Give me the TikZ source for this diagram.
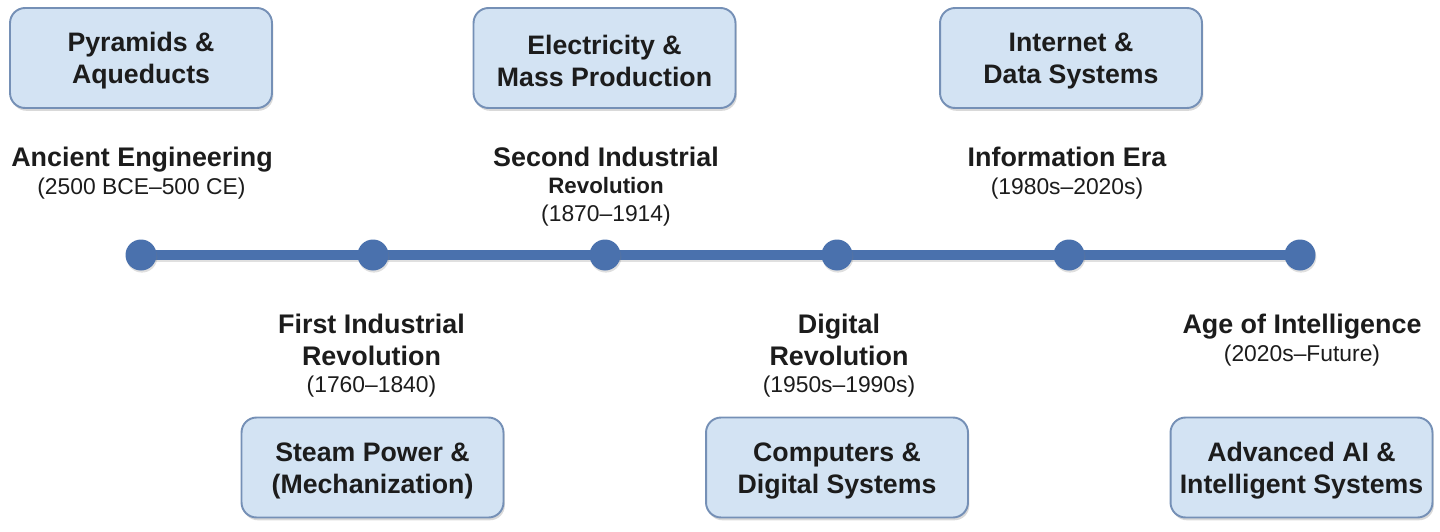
\documentclass[tikz,border=0pt]{standalone}
\usepackage{fontspec}
\setmainfont{Liberation Sans}
\usetikzlibrary{shadows}
\definecolor{boxfill}{HTML}{D3E3F3}
\definecolor{boxline}{HTML}{7590B6}
\definecolor{tl}{HTML}{4A71AD}
\definecolor{txt}{HTML}{1C1C1C}
\begin{document}
\begin{tikzpicture}[x=0.02cm,y=-0.02cm,
  erabox/.style={rounded corners=0.3cm, draw=boxline, line width=1.1pt, fill=boxfill,
    minimum width=5.24cm, minimum height=2cm, align=center, inner sep=0pt,
    font=\fontsize{15.2}{18.3}\selectfont\bfseries, text=txt, text height=32.6pt,
    drop shadow={opacity=0.3, shadow xshift=0.8pt, shadow yshift=-1.6pt}},
  tdot/.style={circle, fill=tl, minimum size=0.62cm, inner sep=0pt,
    drop shadow={opacity=0.25, shadow xshift=0.5pt, shadow yshift=-1.2pt}},
  tline/.style={draw=tl, line width=5.2pt},
  tshade/.style={draw=black, opacity=0.12, line width=5.2pt},
  ttitle/.style={anchor=base, inner sep=0pt, text=txt, font=\fontsize{15.3}{18}\selectfont\bfseries},
  tsub/.style={anchor=base, inner sep=0pt, text=txt, font=\fontsize{12.7}{15}\selectfont\bfseries},
  tdate/.style={anchor=base, inner sep=0pt, text=txt, font=\fontsize{13}{15}\selectfont}]
\useasboundingbox (0,0) rectangle (1440,531);

% boxes
\node[erabox] (b1) at (141,58) {Pyramids \&\\Aqueducts};
\node[erabox] (b2) at (604.5,58) {Electricity \&\\Mass Production};
\node[erabox] (b3) at (1071,58) {Internet \&\\Data Systems};
\node[erabox] (b4) at (372.5,467.5) {Steam Power \&\\(Mechanization)};
\node[erabox] (b5) at (837,467.5) {Computers \&\\Digital Systems};
\node[erabox] (b6) at (1301.5,467.5) {Advanced AI \&\\Intelligent Systems};

% timeline dots
\coordinate (p1) at (141,255);
\coordinate (p2) at (373,255);
\coordinate (p3) at (605,255);
\coordinate (p4) at (837,255);
\coordinate (p5) at (1069,255);
\coordinate (p6) at (1300,255);
\draw[tshade, transform canvas={yshift=-1.6pt}] (p1) -- (p6);
\draw[tline] (p1) -- (p2) -- (p3) -- (p4) -- (p5) -- (p6);
\node[tdot] (d1) at (p1) {};
\node[tdot] (d2) at (p2) {};
\node[tdot] (d3) at (p3) {};
\node[tdot] (d4) at (p4) {};
\node[tdot] (d5) at (p5) {};
\node[tdot] (d6) at (p6) {};

% labels above
\node[ttitle] (l1) at (142,166) {Ancient Engineering};
\node[tdate] (l1d) at (141.5,194) {(2500 BCE–500 CE)};
\node[ttitle] (l3) at (606,166) {Second Industrial};
\node[tsub] (l3s) at (606,193) {Revolution};
\node[tdate] (l3d) at (606,221) {(1870–1914)};
\node[ttitle] (l5) at (1067,166) {Information Era};
\node[tdate] (l5d) at (1067,194) {(1980s–2020s)};

% labels below
\node[ttitle] (l2) at (371.5,333) {First Industrial};
\node[ttitle] (l2s) at (371.5,365) {Revolution};
\node[tdate] (l2d) at (371.5,392) {(1760–1840)};
\node[ttitle] (l4) at (839,333) {Digital};
\node[ttitle] (l4s) at (839,365) {Revolution};
\node[tdate] (l4d) at (839,392) {(1950s–1990s)};
\node[ttitle] (l6) at (1302,333) {Age of Intelligence};
\node[tdate] (l6d) at (1302,361) {(2020s–Future)};
\end{tikzpicture}
\end{document}
